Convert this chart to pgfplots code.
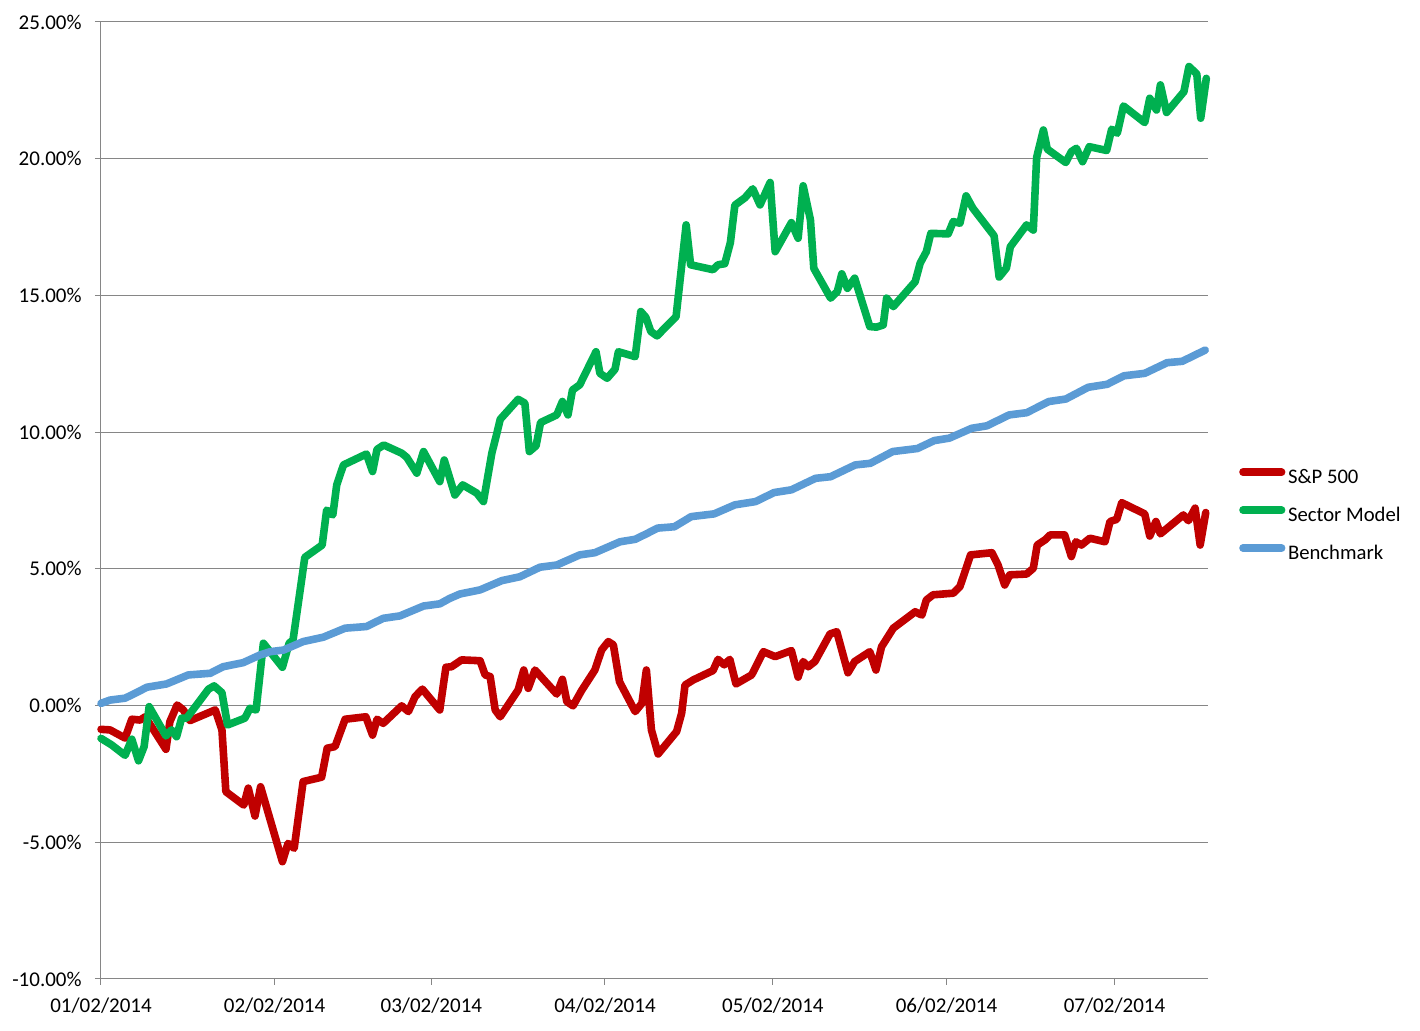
\documentclass[border=0pt]{standalone}
\usepackage{pgfplots}
\pgfplotsset{compat=1.18}
\usepackage{fontspec}
\setmainfont{Carlito}
\definecolor{spred}{RGB}{192,0,0}
\definecolor{secgreen}{RGB}{0,176,80}
\definecolor{benchblue}{RGB}{91,155,213}
\definecolor{gridgray}{RGB}{134,134,134}

\pgfplotstableread{
d pct
0 -0.87
1.6 -0.89
4.3 -1.19
5.5 -0.50
7.0 -0.53
7.9 -0.41
11.6 -1.60
12.3 -0.59
13.6 0.02
14.7 -0.16
15.9 -0.55
20.4 -0.16
21.6 -0.89
22.3 -3.15
25.5 -3.64
26.3 -3.02
27.5 -4.04
28.5 -2.97
32.4 -5.71
33.4 -5.04
34.5 -5.22
36.1 -2.78
39.4 -2.62
40.4 -1.56
41.8 -1.50
43.6 -0.50
47.3 -0.41
48.5 -1.08
49.3 -0.50
50.4 -0.65
53.7 -0.01
54.9 -0.22
56.1 0.33
57.4 0.60
60.5 -0.16
61.6 1.40
62.6 1.42
64.4 1.67
67.7 1.64
68.6 1.12
69.5 1.06
70.4 -0.16
71.3 -0.41
74.5 0.57
75.5 1.30
76.3 0.63
77.5 1.30
81.4 0.42
82.4 0.96
83.2 0.14
84.3 -0.01
85.8 0.54
88.2 1.30
89.4 2.03
90.6 2.34
91.5 2.22
92.6 0.87
95.4 -0.22
96.6 0.08
97.4 1.30
98.3 -0.89
99.5 -1.77
102.8 -0.95
103.7 -0.28
104.3 0.75
105.8 0.94
109.3 1.28
110.2 1.69
111.3 1.49
112.3 1.69
113.4 0.79
116.2 1.12
118.3 1.97
120.4 1.79
123.3 2.01
124.5 1.04
125.4 1.61
126.3 1.42
127.5 1.61
130.2 2.62
131.4 2.70
133.4 1.20
134.6 1.61
137.3 1.97
138.4 1.30
139.4 2.15
141.5 2.83
145.4 3.43
146.6 3.31
147.4 3.86
148.6 4.05
152.2 4.11
153.4 4.35
155.3 5.51
159.1 5.59
160.2 5.14
161.4 4.41
162.3 4.78
165.3 4.81
166.5 5.02
167.2 5.87
168.6 6.06
169.5 6.24
172.1 6.24
173.3 5.45
174.1 5.99
175.1 5.87
176.6 6.12
179.3 5.99
180.2 6.73
181.4 6.81
182.3 7.42
186.4 7.01
187.3 6.20
188.4 6.73
189.2 6.28
193.3 6.97
194.2 6.76
195.4 7.22
196.3 5.87
197.3 7.06
}\spdata

\pgfplotstableread{
d pct
0 -1.20
1.9 -1.44
4.3 -1.82
5.5 -1.23
6.7 -2.02
7.7 -1.50
8.6 -0.04
11.6 -1.11
12.6 -0.89
13.5 -1.14
14.4 -0.46
15.3 -0.46
19.2 0.60
20.2 0.72
21.6 0.47
22.6 -0.71
25.7 -0.46
26.6 -0.10
27.7 -0.16
29.0 2.28
30.2 1.97
32.4 1.40
33.6 2.28
34.3 2.40
36.4 5.42
39.5 5.87
40.3 7.15
41.4 6.97
42.1 8.07
43.3 8.80
47.4 9.20
48.5 8.56
49.3 9.37
50.5 9.53
53.7 9.23
54.6 9.08
56.4 8.50
57.6 9.29
60.5 8.19
61.3 8.98
63.2 7.70
64.6 8.07
67.1 7.77
68.3 7.46
69.8 9.23
70.7 9.96
71.3 10.47
74.5 11.20
75.7 11.06
76.5 9.29
77.7 9.50
78.5 10.35
81.4 10.63
82.4 11.12
83.4 10.63
84.2 11.54
85.5 11.73
88.4 12.94
89.1 12.15
90.4 11.97
91.8 12.30
92.4 12.94
95.4 12.76
96.4 14.41
97.3 14.20
98.2 13.68
99.3 13.52
102.7 14.22
104.5 17.58
105.3 16.12
109.3 15.94
110.2 16.12
111.4 16.16
112.4 16.93
113.2 18.30
115.0 18.57
116.4 18.90
117.7 18.31
119.5 19.13
120.4 16.60
123.3 17.66
124.5 17.09
125.4 19.01
126.7 17.76
127.3 15.99
130.3 14.90
131.5 15.14
132.3 15.79
133.3 15.26
134.6 15.63
137.3 13.86
138.5 13.84
139.7 13.92
140.3 14.90
141.5 14.59
145.4 15.50
146.3 16.18
147.4 16.60
148.2 17.27
151.3 17.25
152.2 17.70
153.4 17.64
154.5 18.64
155.7 18.19
159.5 17.18
160.4 15.67
161.7 16.00
162.4 16.78
165.3 17.58
166.5 17.39
167.1 20.05
168.3 21.05
169.0 20.35
172.3 19.86
173.3 20.26
174.2 20.38
175.3 19.89
176.5 20.44
179.6 20.30
180.5 21.08
181.5 20.93
182.6 21.93
186.4 21.32
187.3 22.21
188.5 21.78
189.2 22.70
190.3 21.69
193.4 22.45
194.3 23.37
195.7 23.10
196.4 21.48
197.4 22.94
}\secdata

\pgfplotstableread{
d pct
0 0.08
1.6 0.20
4.3 0.27
6.1 0.45
8.2 0.67
11.7 0.79
15.6 1.12
19.5 1.18
21.8 1.42
25.4 1.57
28.4 1.85
30.2 1.97
32.6 2.03
36.1 2.34
39.7 2.50
43.6 2.83
47.4 2.89
50.4 3.19
53.4 3.28
57.6 3.64
60.5 3.72
62.3 3.92
64.1 4.08
67.7 4.23
71.6 4.57
74.8 4.71
78.4 5.06
81.4 5.14
85.5 5.51
88.2 5.59
92.7 5.99
95.4 6.08
97.4 6.28
99.4 6.49
102.4 6.54
105.4 6.91
109.5 7.01
113.2 7.34
116.9 7.46
120.2 7.79
123.3 7.89
127.6 8.31
130.3 8.37
134.7 8.80
137.4 8.86
141.4 9.29
145.8 9.40
148.8 9.69
151.5 9.78
155.5 10.14
158.2 10.23
162.2 10.63
165.3 10.71
169.3 11.12
172.3 11.21
176.3 11.64
179.7 11.75
182.7 12.06
186.4 12.15
190.4 12.54
193.1 12.59
197.2 13.00
}\benchdata

\begin{document}
\fontsize{10.35pt}{12pt}\selectfont
\begin{tikzpicture}
\begin{axis}[
  at={(0,0)}, anchor=south west,
  scale only axis,
  width=553.5pt, height=478.5pt,
  xmin=0, xmax=197.7,
  ymin=-10, ymax=25,
  xtick={0,31,59,90,120,151,181},
  xticklabels={01/02/2014,02/02/2014,03/02/2014,04/02/2014,05/02/2014,06/02/2014,07/02/2014},
  ytick={-10,-5,0,5,10,15,20,25},
  yticklabels={-10.00\%,-5.00\%,0.00\%,5.00\%,10.00\%,15.00\%,20.00\%,25.00\%},
  xtick pos=bottom, ytick pos=left,
  tick align=outside,
  major tick length=3pt,
  tick style={draw=gridgray, line width=0.5pt},
  axis x line*=bottom, axis y line*=left,
  axis line style={draw=gridgray, line width=0.5pt, -},
  ymajorgrids,
  grid style={draw=gridgray, line width=0.5pt},
  ticklabel style={font=\fontsize{10.5pt}{12pt}\selectfont, text=black},
  yticklabel style={anchor=east, inner sep=0pt, xshift=-6.5pt},
  xticklabel style={anchor=north, inner sep=0pt, yshift=-6.5pt},
  clip=false,
  legend style={at={(1.0244,0.4832)}, anchor=west, draw=none, fill=none,
    inner sep=0pt, row sep=8.75pt,
    font=\fontsize{10.35pt}{12pt}\selectfont,
    nodes={inner sep=0pt, text height=7.5pt, text depth=2.5pt},
    /tikz/every even column/.append style={column sep=0pt}},
  legend cell align=left,
  legend image code/.code={\path (0pt,0pt) (22.5pt,0pt);\draw[#1, line cap=round] (1.9pt,3.3pt) -- (21.2pt,3.3pt);},
  every axis plot/.append style={line width=3.8pt, line join=round, line cap=round},
]
\addplot[spred, no markers] table[x=d, y=pct] {\spdata};
\addlegendentry{S\&P 500}
\addplot[secgreen, no markers] table[x=d, y=pct] {\secdata};
\addlegendentry{Sector Model}
\addplot[benchblue, no markers] table[x=d, y=pct] {\benchdata};
\addlegendentry{Benchmark}
\end{axis}
\pgfresetboundingbox
\path[use as bounding box] (-50.5pt,-26pt) rectangle (659.5pt,489.5pt);
\end{tikzpicture}
\end{document}
